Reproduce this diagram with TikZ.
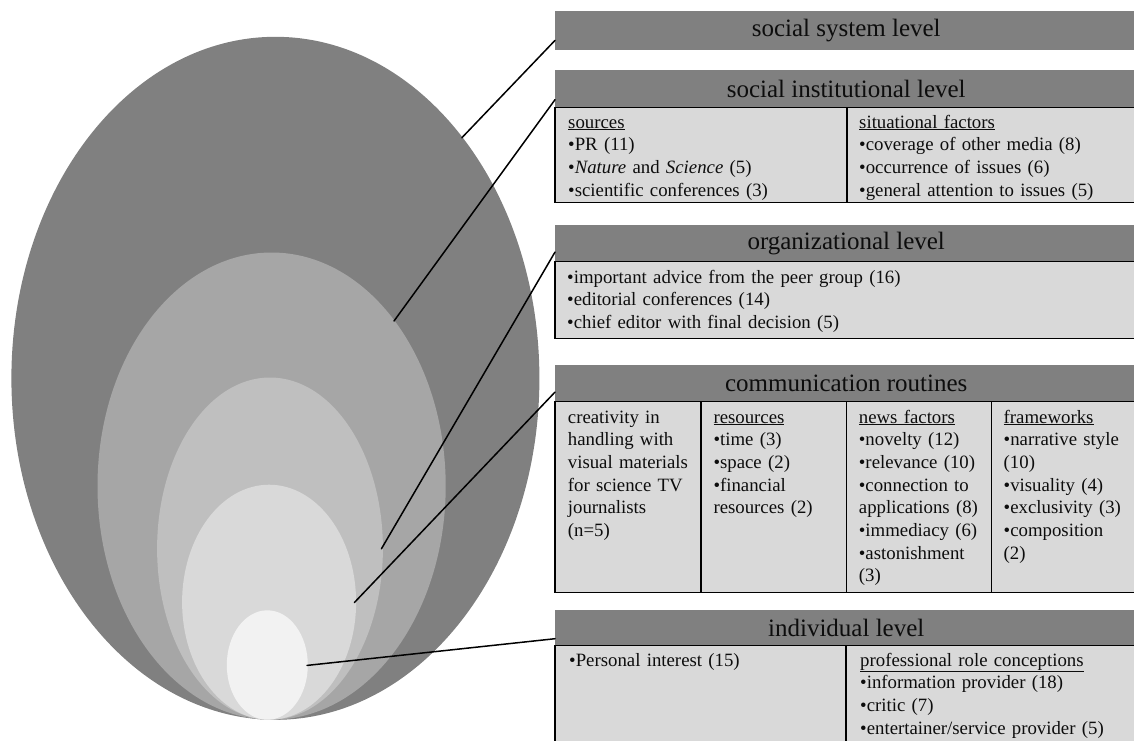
\documentclass[tikz,border=0pt]{standalone}
\usepackage{fontspec}
\setmainfont{Liberation Serif}
\usetikzlibrary{positioning}
\definecolor{bargray}{HTML}{808080}
\definecolor{cellgray}{HTML}{D9D9D9}
\definecolor{shellA}{HTML}{808080}
\definecolor{shellB}{HTML}{A6A6A6}
\definecolor{shellC}{HTML}{BFBFBF}
\definecolor{shellD}{HTML}{D9D9D9}
\definecolor{shellE}{HTML}{F2F2F2}
\definecolor{ink}{HTML}{0D0D0D}

\begin{document}
\begin{tikzpicture}[x=1pt,y=-1pt,line cap=round,
    levelbar/.style={fill=bargray,text=ink,minimum width=582pt,minimum height=#1,
                     anchor=north west,inner sep=0pt,font=\fontsize{25}{30}\selectfont},
    cell/.style={fill=cellgray,draw=black,line width=1.5pt},
    items/.style={anchor=base west,align=left,inner sep=0pt,text=ink,text width=#1,
                  font=\fontsize{18.8}{22.7}\selectfont},
    leader/.style={draw=black,line width=1.5pt}]
    \useasboundingbox (0,0) rectangle (1134,740);
    % --- nested shells ---
    \fill[shellA] (275.4,378.3) ellipse [x radius=264,y radius=341.5];
    \fill[shellB] (271.6,486.1) ellipse [x radius=174.1,y radius=233.6];
    \fill[shellC] (270.0,548.6) ellipse [x radius=112.9,y radius=171.1];
    \fill[shellD] (269.1,602.2) ellipse [x radius=87,y radius=117.5];
    \fill[shellE] (267.3,665.0) ellipse [x radius=40.5,y radius=54.7];
    % --- leader starts inside the shells ---
    \coordinate (eA) at (461.8,137.8);
    \coordinate (eB) at (394.0,321.0);
    \coordinate (eC) at (381.4,548.8);
    \coordinate (eD) at (354.3,602.6);
    \coordinate (eE) at (307.0,665.4);
    % --- social system level ---
    \node[levelbar=39pt] (sys) at (555,11) {social system level};
    % --- social institutional level ---
    \node[levelbar=38pt] (inst) at (555,69.3) {social institutional level};
    \draw[cell] (555,107.3) rectangle (847,202.7);
    \draw[cell] (847,107.3) rectangle (1137,202.7);
    \node[items=270pt] (instA) at (568,128)
      {\underline{sources}\\ \textbullet PR (11)\\ \textbullet\textit{Nature} and \textit{Science} (5)\\
       \textbullet scientific conferences (3)};
    \node[items=270pt] (instB) at (859,128)
      {\underline{situational factors}\\ \textbullet coverage of other media (8)\\
       \textbullet occurrence of issues (6)\\ \textbullet general attention to issues (5)};
    % --- organizational level ---
    \node[levelbar=37.4pt] (org) at (555,224.3) {organizational level};
    \draw[cell] (555,261.7) rectangle (1137,338.3);
    \node[items=540pt] (orgA) at (567,283)
      {\textbullet important advice from the peer group (16)\\ \textbullet editorial conferences (14)\\
       \textbullet chief editor with final decision (5)};
    % --- communication routines ---
    \node[levelbar=37.4pt] (comm) at (555,364.3) {communication routines};
    \draw[cell] (555,401.7) rectangle (701,592.5);
    \draw[cell] (701,401.7) rectangle (846.5,592.5);
    \draw[cell] (846.5,401.7) rectangle (991.7,592.5);
    \draw[cell] (991.7,401.7) rectangle (1137,592.5);
    \node[items=134pt] (commA) at (567.7,423)
      {creativity in\\ handling with\\ visual materials\\ for science TV\\ journalists\\ (n=5)};
    \node[items=134pt] (commB) at (713.3,423)
      {\underline{resources}\\ \textbullet time (3)\\ \textbullet space (2)\\ \textbullet financial\\ resources (2)};
    \node[items=134pt] (commC) at (858.7,423)
      {\underline{news factors}\\ \textbullet novelty (12)\\ \textbullet relevance (10)\\ \textbullet connection to\\
       applications (8)\\ \textbullet immediacy (6)\\ \textbullet astonishment\\ (3)};
    \node[items=134pt] (commD) at (1003.5,423)
      {\underline{frameworks}\\ \textbullet narrative style\\ (10)\\ \textbullet visuality (4)\\
       \textbullet exclusivity (3)\\ \textbullet composition\\ (2)};
    % --- individual level ---
    \node[levelbar=36pt] (indiv) at (555,609.3) {individual level};
    \draw[cell] (555,645.3) rectangle (846,760);
    \draw[cell] (846,645.3) rectangle (1137,760);
    \node[items=270pt] (indivA) at (569,666)
      {\textbullet Personal interest (15)};
    \node[items=270pt] (indivB) at (860,666)
      {\underline{professional role conceptions}\\ \textbullet information provider (18)\\
       \textbullet critic (7)\\ \textbullet entertainer/service provider (5)};
    % --- leaders from shells to bars ---
    \draw[leader] (eA) -- ([yshift=10pt]sys.south west);
    \draw[leader] (eB) -- ([yshift=8pt]inst.south west);
    \draw[leader] (eC) -- ([yshift=10pt]org.south west);
    \draw[leader] (eD) -- ([yshift=10pt]comm.south west);
    \draw[leader] (eE) -- ([yshift=7pt]indiv.south west);
\end{tikzpicture}
\end{document}
